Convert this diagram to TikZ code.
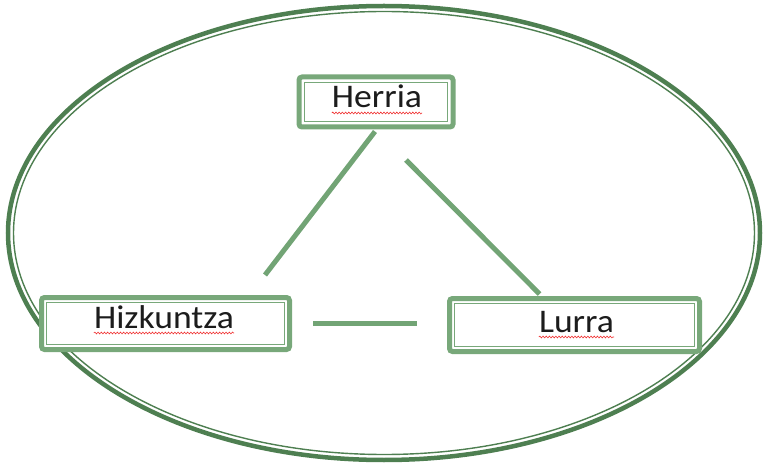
\documentclass[tikz,border=0pt]{standalone}
\usepackage{fontspec}
\setmainfont{Carlito}
\newfontfamily\wordfont[FakeStretch=1.08]{Carlito}
\usetikzlibrary{decorations.pathmorphing}
\definecolor{ringgreen}{HTML}{4E7F51}
\definecolor{boxgreen}{HTML}{78A87A}
\definecolor{linkgreen}{HTML}{72A475}
\definecolor{textcol}{HTML}{1C1C1C}
\definecolor{spellred}{HTML}{F03030}
\tikzset{
  box/.style={draw=boxgreen, line width=5pt, rounded corners=3pt, fill=white,
    inner sep=0pt,
    path picture={\draw[boxgreen, line width=1.3pt, sharp corners]
      ([shift={(5.3pt,-5.3pt)}]path picture bounding box.north west) rectangle
      ([shift={(-5.3pt,5.3pt)}]path picture bounding box.south east);}},
  word/.style={font=\wordfont\fontsize{33}{36}\selectfont, inner sep=0pt, text=textcol, anchor=base},
  spell/.style={draw=spellred, line width=0.6pt, decorate,
    decoration={snake, amplitude=0.9pt, segment length=3.2pt}},
  link/.style={draw=linkgreen, line width=5pt},
  ringout/.style={draw=ringgreen, line width=4.5pt},
  ringin/.style={draw=ringgreen, line width=1.4pt},
}
\begin{document}
\begin{tikzpicture}[x=1pt, y=-1pt]
  \useasboundingbox (0,0) rectangle (766,465);
  % outer double ring
  \draw[ringout] (384,233) ellipse [x radius=376pt, y radius=227pt];
  \draw[ringin]  (384,233) ellipse [x radius=370.5pt, y radius=221.5pt];

  % boxes
  \node[box, minimum width=154pt, minimum height=50pt] (herria) at (376,102) {};
  \node[box, minimum width=248pt, minimum height=52pt] (hizk) at (165.5,323.5) {};
  \node[box, minimum width=250pt, minimum height=53pt] (lurra) at (574.5,325) {};

  % labels
  \node[word] (herria-t) at (377,108) {Herria};
  \node[word] (hizk-t) at (164,328) {Hizkuntza};
  \node[word] (lurra-t) at (576.5,332) {Lurra};

  % spell-check underlines
  \foreach \w in {herria-t, hizk-t, lurra-t}
    \draw[spell] ([yshift=-5pt]\w.base west) -- ([yshift=-5pt]\w.base east);

  % connectors
  \coordinate (c1) at (265,275);
  \coordinate (c2) at (406,160);
  \coordinate (c3) at (313,323);
  \coordinate (c4) at (417,323);
  \draw[link] ([xshift=-1pt,yshift=-2pt]herria.south) -- (c1);
  \draw[link] (c2) -- ([xshift=-35pt,yshift=2pt]lurra.north);
  \draw[link] (c3) -- (c4);
\end{tikzpicture}
\end{document}
